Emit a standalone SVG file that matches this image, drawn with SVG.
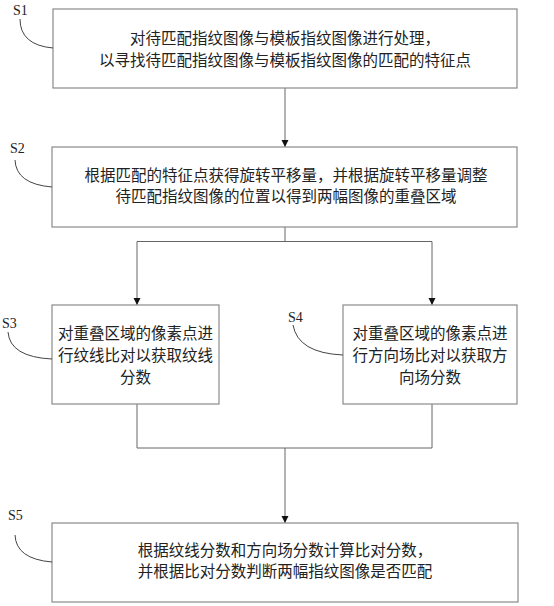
<svg xmlns="http://www.w3.org/2000/svg" width="554" height="606" viewBox="0 0 554 606">
<style>
.box{fill:#fff;stroke:#8a8a8a;stroke-width:1.2}
.t{font-family:"Liberation Serif","Noto Sans CJK SC",serif;font-size:15.5px;fill:#222;text-anchor:middle}
.lab{font-family:"Liberation Serif",serif;font-size:14px;fill:#222}
.lead{fill:none;stroke:#444;stroke-width:1}
.c{fill:none;stroke:#666;stroke-width:1}
</style>
<defs>
<marker id="arr" markerWidth="8" markerHeight="8" refX="7" refY="4" orient="auto" markerUnits="userSpaceOnUse">
<path d="M0,0.5 L7,4 L0,7.5 Z" fill="#111"/>
</marker>
</defs>
<rect width="554" height="606" fill="#fff"/>
<g id="connectors">
<path class="c" d="M285,88 V147" marker-end="url(#arr)"/>
<path class="c" d="M285,227 V241.5 M137,241.5 H432"/>
<path class="c" d="M137,241.5 V305" marker-end="url(#arr)"/>
<path class="c" d="M432,241.5 V305" marker-end="url(#arr)"/>
<path class="c" d="M137,404 V448 H432 V404"/>
<path class="c" d="M285,448 V523" marker-end="url(#arr)"/>
</g>
<g id="S1">
<rect class="box" x="53" y="9" width="464" height="79"/>
<text class="t" x="285" y="43.5">对待匹配指纹图像与模板指纹图像进行处理，</text>
<text class="t" x="285" y="65.5">以寻找待匹配指纹图像与模板指纹图像的匹配的特征点</text>
<text class="lab" x="13" y="15">S1</text>
<path class="lead" d="M20,19 Q20,45 53,48"/>
</g>
<g id="S2">
<rect class="box" x="52" y="147" width="465" height="80"/>
<text class="t" x="286" y="180.5">根据匹配的特征点获得旋转平移量，并根据旋转平移量调整</text>
<text class="t" x="286" y="202">待匹配指纹图像的位置以得到两幅图像的重叠区域</text>
<text class="lab" x="10" y="153">S2</text>
<path class="lead" d="M15,160 Q16,184 52,187"/>
</g>
<g id="S3">
<rect class="box" x="52" y="305" width="167" height="99"/>
<text class="t" x="135.5" y="338.5">对重叠区域的像素点进</text>
<text class="t" x="135.5" y="360.5">行纹线比对以获取纹线</text>
<text class="t" x="135.5" y="382.5">分数</text>
<text class="lab" x="2" y="328">S3</text>
<path class="lead" d="M8,332 Q10,357 52,359"/>
</g>
<g id="S4">
<rect class="box" x="343" y="305" width="174" height="99"/>
<text class="t" x="430" y="338.5">对重叠区域的像素点进</text>
<text class="t" x="430" y="360.5">行方向场比对以获取方</text>
<text class="t" x="430" y="382.5">向场分数</text>
<text class="lab" x="288" y="322">S4</text>
<path class="lead" d="M293,325 Q298,353 343,355"/>
</g>
<g id="S5">
<rect class="box" x="52" y="523" width="466" height="79"/>
<text class="t" x="285" y="555.5">根据纹线分数和方向场分数计算比对分数，</text>
<text class="t" x="285" y="577">并根据比对分数判断两幅指纹图像是否匹配</text>
<text class="lab" x="8" y="520">S5</text>
<path class="lead" d="M15,535 Q16,559 52,562"/>
</g>
</svg>
